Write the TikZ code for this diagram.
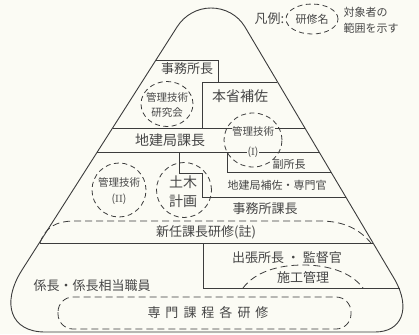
\documentclass[tikz,border=0pt]{standalone}
\usepackage{fontspec}
\usetikzlibrary{shapes.geometric}
\newfontfamily\jp{Noto Sans CJK JP}
\definecolor{bg}{RGB}{251,251,244}
\definecolor{lc}{RGB}{60,60,60}
\definecolor{tc}{RGB}{70,70,70}
\begin{document}
\begin{tikzpicture}[x=1pt,y=-1pt,
  outline/.style={draw=lc, line width=0.9pt},
  ln/.style={draw=lc, line width=0.75pt},
  dsh/.style={draw=lc, line width=0.8pt, dash pattern=on 7pt off 4pt},
  dshc/.style={draw=lc, line width=0.8pt, dash pattern=on 5pt off 3.5pt, ellipse, inner sep=0pt},
  lbl/.style={text=tc, inner sep=0.5pt, font=\jp\fontsize{13}{15}\selectfont},
  big/.style={lbl, font=\jp\fontsize{14}{16}\selectfont},
  sml/.style={lbl, font=\jp\fontsize{11}{13}\selectfont},
  ctx/.style={lbl, font=\jp\fontsize{10.5}{12}\selectfont},
  cover/.style={fill=bg}]
\fill[bg] (0,0) rectangle (419,334);
\useasboundingbox (0,0) rectangle (419,334);

% pyramid outline
\draw[outline] (22,270) -- (177,27)
  .. controls (184.4,15.3) and (197.1,8) .. (211,8)
  .. controls (224.9,8) and (237.9,15) .. (245,27)
  -- (395,280) .. controls (411,308.6) and (402,332) .. (375,332)
  -- (45,332) .. controls (11,332) and (0.5,304) .. (22,270) -- cycle;

% inner division lines
\draw[ln] (155.6,60) -- (218,60) -- (218,82);
\draw[ln] (277.3,82) -- (202,82) -- (202,128);
\draw[ln] (112.5,128) -- (304.6,128);
\draw[ln] (97.2,152) -- (318.8,152);
\draw[ln] (227,152) -- (227,172) -- (330.7,172);
\draw[ln] (179,152) -- (179,173) -- (202,173) -- (202,197) -- (345.5,197);
\draw[ln] (39.6,243) -- (372.8,243);
\draw[ln] (203,243) -- (203,288) -- (399.5,288);

% dashed training ranges
\draw[dsh] (40,243) .. controls (45,228) and (55,221) .. (75,221) -- (320,221)
  .. controls (345,221) and (360,230) .. (371,243);
\draw[dsh] (243,288) .. controls (255,272) and (278,265) .. (303,265)
  .. controls (328,265) and (351,272) .. (363,288);
\draw[dsh, rounded corners=15pt] (58,297) rectangle (351,329);

% circles
\node[dshc, minimum width=52pt, minimum height=45pt] (ck) at (167,104) {};
\node[dshc, minimum width=58pt, minimum height=54pt] (c1) at (253,140) {};
\node[dshc, minimum width=54pt, minimum height=54pt] (c2) at (119,190) {};
\node[dshc, minimum width=55pt, minimum height=55pt] (cd) at (184,190) {};

% labels
\node[lbl] (jimusho) at (187,69) {事務所長};
\node[big] (honsho) at (240,96) {本省補佐};
\node[big] (chiken) at (170,140) {地建局課長};
\node[sml] (fuku) at (289,164) {副所長};
\node[sml] (hosa) at (277,185) {地建局補佐・専門官};
\node[lbl] (kacho) at (265,209) {事務所課長};
\node[lbl] (shinnin) at (206,232) {新任課長研修(註)};
\node[lbl] (shutcho) at (287,258) {出張所長\hspace{3pt}・\hspace{3pt}監督官};
\node[lbl] (seko) at (303,278) {施工管理};
\node[lbl, anchor=west] (kakari) at (33,286) {係長・係長相当職員};
\node[lbl] (senmon) at (208,313) {専\hspace{5pt}門\hspace{5pt}課\hspace{5pt}程\hspace{5pt}各\hspace{5pt}研\hspace{5pt}修};

% circle texts
\node[ctx] (ka1) at (167,97) {管理技術};
\node[ctx] (ka2) at (167,113) {研究会};
\node[ctx, cover] (kb1) at (253,131) {管理技術};
\node[ctx, cover] (kb2) at (253,152) {(\textrm{I})};
\node[ctx] (kc1) at (119,182) {管理技術};
\node[ctx] (kc2) at (119,199) {(\textrm{II})};
\node[big] (do1) at (183,182) {土木};
\node[big] (do2) at (183,201) {計画};

% legend
\node[lbl, anchor=east] (hanrei) at (285,19) {凡例:};
\node[dshc, minimum width=52pt, minimum height=30pt] (lgc) at (312,19) {};
\node[sml] (lgt) at (312,19) {研修名};
\node[sml, anchor=west] (lg1) at (343,12) {対象者の};
\node[sml, anchor=west] (lg2) at (343,28) {範囲を示す};
\end{tikzpicture}
\end{document}
